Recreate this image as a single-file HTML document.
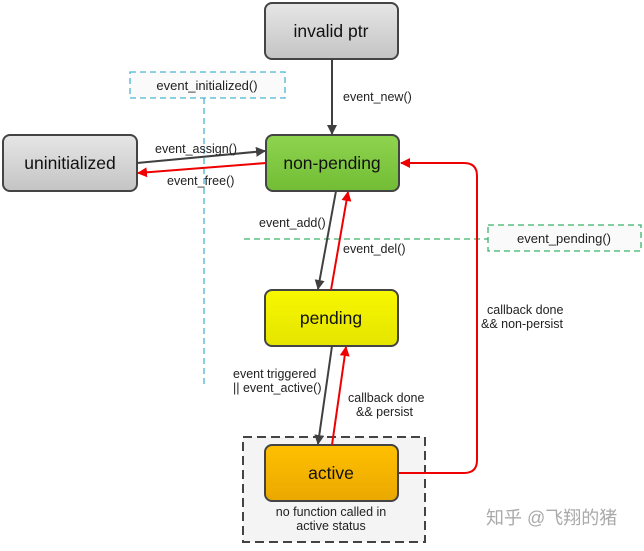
<!DOCTYPE html><html><head><meta charset="utf-8"><style>
body{margin:0;background:#fff;}
svg text{font-family:"Liberation Sans","Noto Sans CJK SC",sans-serif;}
</style></head><body>
<svg width="644" height="546" viewBox="0 0 644 546" xmlns="http://www.w3.org/2000/svg">
<defs>
<linearGradient id="g" x1="0" y1="0" x2="0" y2="1"><stop offset="0" stop-color="#e6e6e6"/><stop offset="1" stop-color="#c4c4c4"/></linearGradient>
<linearGradient id="gr" x1="0" y1="0" x2="0" y2="1"><stop offset="0" stop-color="#8fd44f"/><stop offset="1" stop-color="#72bd35"/></linearGradient>
<linearGradient id="y" x1="0" y1="0" x2="0" y2="1"><stop offset="0" stop-color="#f8f800"/><stop offset="1" stop-color="#e4e400"/></linearGradient>
<linearGradient id="o" x1="0" y1="0" x2="0" y2="1"><stop offset="0" stop-color="#ffc000"/><stop offset="1" stop-color="#eaa800"/></linearGradient>
<marker id="ad" markerWidth="10" markerHeight="10" refX="9" refY="5" orient="auto" markerUnits="userSpaceOnUse"><path d="M0,0 L10,5 L0,10 z" fill="#404040"/></marker>
<marker id="ar" markerWidth="10" markerHeight="10" refX="9" refY="5" orient="auto" markerUnits="userSpaceOnUse"><path d="M0,0 L10,5 L0,10 z" fill="#e00"/></marker>
</defs>
<rect x="243" y="437" width="182" height="105" fill="#f4f4f4" stroke="#444" stroke-width="2" stroke-dasharray="9,5"/>
<rect x="130" y="72" width="155" height="26" fill="#fafafa" stroke="#4ab4d4" stroke-width="1.3" stroke-dasharray="6,4"/>
<text x="207" y="90" font-size="13" text-anchor="middle" fill="#222">event_initialized()</text>
<line x1="204" y1="98" x2="204" y2="385" stroke="#4ab4d4" stroke-width="1.3" stroke-dasharray="6,4"/>
<rect x="488" y="225" width="153" height="26" fill="#fafafa" stroke="#3cb46c" stroke-width="1.3" stroke-dasharray="6,4"/>
<text x="564" y="243" font-size="13" text-anchor="middle" fill="#222">event_pending()</text>
<line x1="244" y1="239" x2="488" y2="239" stroke="#3cb46c" stroke-width="1.3" stroke-dasharray="6,4"/>
<rect x="265" y="3" width="133" height="56" rx="7" fill="url(#g)" stroke="#444" stroke-width="2"/>
<text x="331" y="37" font-size="17.5" text-anchor="middle" fill="#111">invalid ptr</text>
<rect x="3" y="135" width="134" height="56" rx="7" fill="url(#g)" stroke="#444" stroke-width="2"/>
<text x="70" y="169" font-size="17.5" text-anchor="middle" fill="#111">uninitialized</text>
<rect x="266" y="135" width="133" height="56" rx="7" fill="url(#gr)" stroke="#444" stroke-width="2"/>
<text x="332" y="169" font-size="17.5" text-anchor="middle" fill="#111">non-pending</text>
<rect x="265" y="290" width="133" height="56" rx="7" fill="url(#y)" stroke="#444" stroke-width="2"/>
<text x="331" y="324" font-size="17.5" text-anchor="middle" fill="#111">pending</text>
<rect x="265" y="445" width="133" height="56" rx="7" fill="url(#o)" stroke="#444" stroke-width="2"/>
<text x="331" y="479" font-size="17.5" text-anchor="middle" fill="#111">active</text>
<line x1="332" y1="59" x2="332" y2="134" stroke="#404040" stroke-width="2" marker-end="url(#ad)"/>
<line x1="137" y1="163" x2="265" y2="151" stroke="#404040" stroke-width="2" marker-end="url(#ad)"/>
<line x1="266" y1="163" x2="138" y2="173" stroke="#e00" stroke-width="2" marker-end="url(#ar)"/>
<line x1="336" y1="191" x2="318" y2="289" stroke="#404040" stroke-width="2" marker-end="url(#ad)"/>
<line x1="331" y1="290" x2="348" y2="192" stroke="#e00" stroke-width="2" marker-end="url(#ar)"/>
<line x1="332" y1="346" x2="318" y2="444" stroke="#404040" stroke-width="2" marker-end="url(#ad)"/>
<line x1="332" y1="445" x2="346" y2="347" stroke="#e00" stroke-width="2" marker-end="url(#ar)"/>
<path d="M399,473 H464 Q477,473 477,460 V176 Q477,163 464,163 H401" fill="none" stroke="#e00" stroke-width="2" marker-end="url(#ar)"/>
<g font-size="12.5" fill="#222">
<text x="343" y="101">event_new()</text>
<text x="155" y="153">event_assign()</text>
<text x="167" y="185">event_free()</text>
<text x="259" y="227">event_add()</text>
<text x="343" y="253">event_del()</text>
<text x="487" y="314">callback done</text>
<text x="481" y="328">&amp;&amp; non-persist</text>
<text x="233" y="378">event triggered</text>
<text x="233" y="392">|| event_active()</text>
<text x="348" y="402">callback done</text>
<text x="356" y="416">&amp;&amp; persist</text>
<text x="331" y="516" text-anchor="middle">no function called in</text>
<text x="331" y="530" text-anchor="middle">active status</text>
</g>
<text x="486" y="524" font-size="18" fill="#aaa">知乎 @飞翔的猪</text>
</svg>
</body></html>
